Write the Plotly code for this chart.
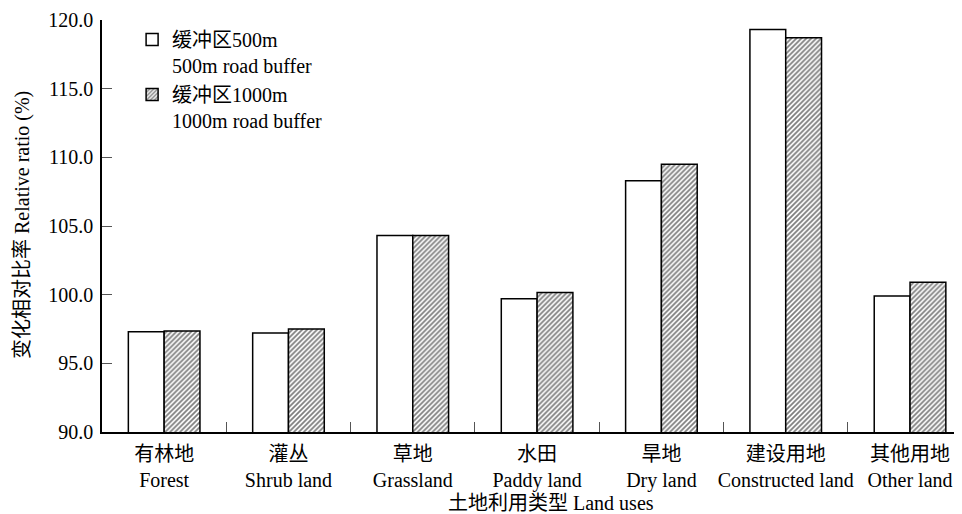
import plotly.graph_objects as go

categories_cn = ["有林地", "灌丛", "草地", "水田", "旱地", "建设用地", "其他用地"]
categories_en = ["Forest", "Shrub land", "Grassland", "Paddy land", "Dry land", "Constructed land", "Other land"]
buffer_500 = [97.3, 97.2, 104.3, 99.7, 108.3, 119.3, 99.9]
buffer_1000 = [97.35, 97.5, 104.3, 100.15, 109.5, 118.7, 100.9]
series_names = ["缓冲区500m<br>500m road buffer", "缓冲区1000m<br>1000m road buffer"]
y_ticks = [90, 95, 100, 105, 110, 115, 120]

cats = [f"{c}<br>{e}" for c, e in zip(categories_cn, categories_en)]
FONT = "Liberation Serif, Times New Roman, Noto Sans CJK SC, serif"
FS = 20

fig = go.Figure()
fig.add_trace(go.Bar(
    x=cats, y=buffer_500, name=series_names[0],
    marker=dict(color="white", line=dict(color="black", width=1.5)),
))
fig.add_trace(go.Bar(
    x=cats, y=buffer_1000, name=series_names[1],
    marker=dict(color="white", line=dict(color="black", width=1.5),
                pattern=dict(shape="/", fgcolor="black", bgcolor="white", size=3.5, solidity=0.5)),
))

fig.update_layout(
    width=954, height=506,
    margin=dict(l=94, r=0, t=12, b=82),
    paper_bgcolor="white", plot_bgcolor="white",
    font=dict(family=FONT, size=FS, color="black"),
    barmode="group", bargap=0.424, bargroupgap=0,
    showlegend=True,
    legend=dict(x=0.035, y=1.0, xanchor="left", yanchor="top",
                bgcolor="rgba(0,0,0,0)", font=dict(size=FS), valign="top",
                tracegroupgap=0),
    xaxis=dict(
        range=[-0.5, 6.418], showline=True, linecolor="black", linewidth=1.5,
        ticks="inside", tickson="boundaries", ticklen=10, tickcolor="#555",
        showgrid=False, tickfont=dict(size=FS), tickangle=0, automargin=False,
        ticklabelstandoff=3,
    ),
    yaxis=dict(
        range=[90, 120], tickvals=y_ticks, tickformat=".1f",
        showline=True, linecolor="black", linewidth=1.5,
        ticks="inside", ticklen=10, tickcolor="#555", showgrid=False,
        tickfont=dict(size=FS), automargin=False, ticklabelstandoff=3,
    ),
    annotations=[
        dict(text="土地利用类型 Land uses", xref="paper", yref="paper",
             x=(551 - 102) / 860, y=-(503 - 432) / 412, xanchor="center", yanchor="middle",
             showarrow=False, font=dict(size=FS)),
        dict(text="变化相对比率 Relative ratio (%)", xref="paper", yref="paper",
             x=-(102 - 22) / 860, y=(432 - 225) / 412, xanchor="center", yanchor="middle",
             textangle=-90, showarrow=False, font=dict(size=FS)),
    ],
)

fig.write_html("out.html")
